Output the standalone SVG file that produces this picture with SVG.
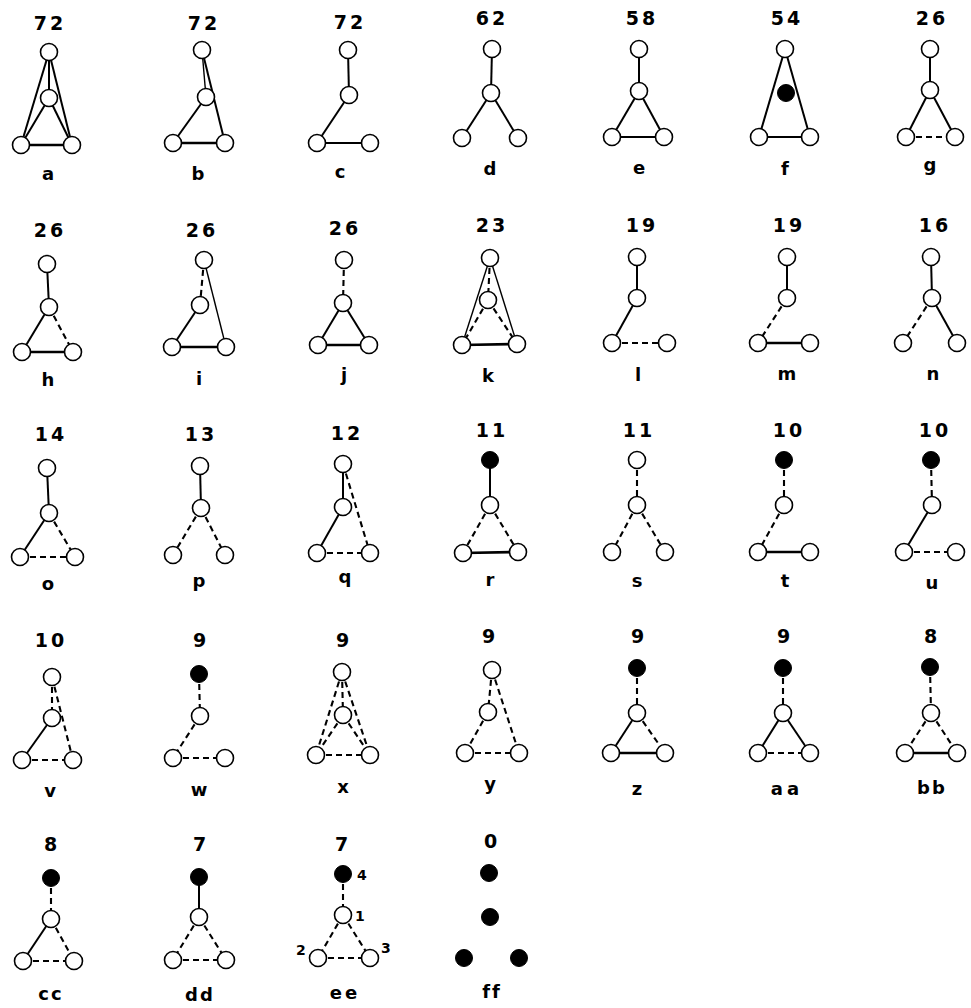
<svg xmlns="http://www.w3.org/2000/svg" width="971" height="1008" viewBox="0 0 971 1008">
<style>
.e{stroke:#000;stroke-width:2;fill:none}
.t{stroke-width:1.4}
.k{stroke-width:2.6}
.d{stroke-dasharray:6 4;stroke-width:2.1}
.n{fill:#fff;stroke:#000;stroke-width:1.6}
.f{fill:#000;stroke:#000;stroke-width:1}
.num{font-family:"DejaVu Sans",sans-serif;font-weight:bold;font-size:19px;letter-spacing:3px;text-anchor:middle;fill:#000}
.lbl{font-family:"DejaVu Sans",sans-serif;font-weight:bold;font-size:18px;text-anchor:middle;fill:#000}
.sm{font-family:"DejaVu Sans",sans-serif;font-weight:bold;font-size:14px;fill:#000}
</style>
<rect width="971" height="1008" fill="#fff"/>
<g id="connectors">
<line class="e" x1="49" y1="52" x2="49" y2="98"/><line class="e" x1="49" y1="52" x2="21" y2="145"/><line class="e" x1="49" y1="52" x2="72" y2="145"/><line class="e" x1="49" y1="98" x2="21" y2="145"/><line class="e" x1="49" y1="98" x2="72" y2="145"/><line class="e k" x1="21" y1="145" x2="72" y2="145"/>
<line class="e t" x1="202" y1="50" x2="206" y2="97"/><line class="e" x1="202" y1="50" x2="225" y2="143"/><line class="e" x1="206" y1="97" x2="173" y2="143"/><line class="e k" x1="173" y1="143" x2="225" y2="143"/>
<line class="e" x1="348" y1="50" x2="349" y2="95"/><line class="e" x1="349" y1="95" x2="317" y2="143"/><line class="e" x1="317" y1="143" x2="370" y2="143"/>
<line class="e" x1="492" y1="49" x2="491" y2="93"/><line class="e" x1="491" y1="93" x2="462" y2="138"/><line class="e" x1="491" y1="93" x2="518" y2="138"/>
<line class="e" x1="639" y1="49" x2="639" y2="91"/><line class="e" x1="639" y1="91" x2="612" y2="137"/><line class="e" x1="639" y1="91" x2="664" y2="137"/><line class="e" x1="612" y1="137" x2="664" y2="137"/>
<line class="e" x1="785" y1="49" x2="759" y2="137"/><line class="e" x1="785" y1="49" x2="810" y2="137"/><line class="e" x1="759" y1="137" x2="810" y2="137"/>
<line class="e" x1="930" y1="49" x2="930" y2="90"/><line class="e" x1="930" y1="90" x2="906" y2="137"/><line class="e" x1="930" y1="90" x2="955" y2="137"/><line class="e d" x1="906" y1="137" x2="955" y2="137"/>
<line class="e" x1="47" y1="264" x2="49" y2="307"/><line class="e" x1="49" y1="307" x2="22" y2="352"/><line class="e d" x1="49" y1="307" x2="73" y2="352"/><line class="e k" x1="22" y1="352" x2="73" y2="352"/>
<line class="e d" x1="204" y1="260" x2="200" y2="305"/><line class="e t" x1="204" y1="260" x2="226" y2="347"/><line class="e" x1="200" y1="305" x2="172" y2="347"/><line class="e k" x1="172" y1="347" x2="226" y2="347"/>
<line class="e d" x1="344" y1="260" x2="343" y2="303"/><line class="e" x1="343" y1="303" x2="318" y2="345"/><line class="e" x1="343" y1="303" x2="369" y2="345"/><line class="e k" x1="318" y1="345" x2="369" y2="345"/>
<line class="e t" x1="490" y1="258" x2="462" y2="345"/><line class="e d" x1="490" y1="258" x2="488" y2="300"/><line class="e t" x1="490" y1="258" x2="517" y2="344"/><line class="e d" x1="488" y1="300" x2="462" y2="345"/><line class="e d" x1="488" y1="300" x2="517" y2="344"/><line class="e k" x1="462" y1="345" x2="517" y2="344"/>
<line class="e" x1="637" y1="257" x2="637" y2="298"/><line class="e" x1="637" y1="298" x2="612" y2="343"/><line class="e d" x1="612" y1="343" x2="667" y2="343"/>
<line class="e" x1="787" y1="257" x2="787" y2="298"/><line class="e d" x1="787" y1="298" x2="758" y2="343"/><line class="e k" x1="758" y1="343" x2="810" y2="343"/>
<line class="e" x1="931" y1="257" x2="932" y2="298"/><line class="e d" x1="932" y1="298" x2="903" y2="343"/><line class="e" x1="932" y1="298" x2="957" y2="343"/>
<line class="e" x1="47" y1="468" x2="49" y2="513"/><line class="e" x1="49" y1="513" x2="20" y2="557"/><line class="e d" x1="49" y1="513" x2="75" y2="557"/><line class="e d" x1="20" y1="557" x2="75" y2="557"/>
<line class="e" x1="200" y1="466" x2="201" y2="508"/><line class="e d" x1="201" y1="508" x2="173" y2="555"/><line class="e d" x1="201" y1="508" x2="225" y2="555"/>
<line class="e" x1="343" y1="464" x2="343" y2="507"/><line class="e d" x1="343" y1="464" x2="370" y2="553"/><line class="e" x1="343" y1="507" x2="317" y2="553"/><line class="e d" x1="317" y1="553" x2="370" y2="553"/>
<line class="e" x1="490" y1="460" x2="490" y2="505"/><line class="e d" x1="490" y1="505" x2="463" y2="553"/><line class="e d" x1="490" y1="505" x2="518" y2="552"/><line class="e k" x1="463" y1="553" x2="518" y2="552"/>
<line class="e d" x1="637" y1="460" x2="637" y2="505"/><line class="e d" x1="637" y1="505" x2="612" y2="552"/><line class="e d" x1="637" y1="505" x2="665" y2="552"/>
<line class="e d" x1="784" y1="460" x2="784" y2="505"/><line class="e d" x1="784" y1="505" x2="758" y2="552"/><line class="e k" x1="758" y1="552" x2="810" y2="552"/>
<line class="e d" x1="931" y1="460" x2="932" y2="505"/><line class="e" x1="932" y1="505" x2="904" y2="552"/><line class="e d" x1="904" y1="552" x2="956" y2="552"/>
<line class="e d" x1="52" y1="677" x2="52" y2="718"/><line class="e d" x1="52" y1="677" x2="73" y2="760"/><line class="e" x1="52" y1="718" x2="22" y2="760"/><line class="e d" x1="22" y1="760" x2="73" y2="760"/>
<line class="e d" x1="199" y1="674" x2="200" y2="716"/><line class="e d" x1="200" y1="716" x2="173" y2="758"/><line class="e d" x1="173" y1="758" x2="225" y2="758"/>
<line class="e d" x1="342" y1="672" x2="316" y2="755"/><line class="e d" x1="342" y1="672" x2="343" y2="715"/><line class="e d" x1="342" y1="672" x2="370" y2="755"/><line class="e d" x1="343" y1="715" x2="316" y2="755"/><line class="e d" x1="343" y1="715" x2="370" y2="755"/><line class="e d" x1="316" y1="755" x2="370" y2="755"/>
<line class="e d" x1="492" y1="670" x2="488" y2="712"/><line class="e d" x1="492" y1="670" x2="519" y2="753"/><line class="e d" x1="488" y1="712" x2="465" y2="753"/><line class="e d" x1="465" y1="753" x2="519" y2="753"/>
<line class="e d" x1="637" y1="668" x2="637" y2="713"/><line class="e" x1="637" y1="713" x2="611" y2="753"/><line class="e d" x1="637" y1="713" x2="665" y2="753"/><line class="e k" x1="611" y1="753" x2="665" y2="753"/>
<line class="e d" x1="783" y1="668" x2="783" y2="713"/><line class="e" x1="783" y1="713" x2="758" y2="753"/><line class="e" x1="783" y1="713" x2="810" y2="753"/><line class="e d" x1="758" y1="753" x2="810" y2="753"/>
<line class="e d" x1="930" y1="667" x2="931" y2="713"/><line class="e d" x1="931" y1="713" x2="905" y2="753"/><line class="e d" x1="931" y1="713" x2="957" y2="753"/><line class="e k" x1="905" y1="753" x2="957" y2="753"/>
<line class="e d" x1="51" y1="878" x2="51" y2="919"/><line class="e" x1="51" y1="919" x2="23" y2="961"/><line class="e d" x1="51" y1="919" x2="74" y2="961"/><line class="e d" x1="23" y1="961" x2="74" y2="961"/>
<line class="e" x1="199" y1="877" x2="199" y2="917"/><line class="e d" x1="199" y1="917" x2="173" y2="960"/><line class="e d" x1="199" y1="917" x2="226" y2="960"/><line class="e d" x1="173" y1="960" x2="226" y2="960"/>
<line class="e d" x1="343" y1="874" x2="343" y2="915"/><line class="e d" x1="343" y1="915" x2="318" y2="958"/><line class="e d" x1="343" y1="915" x2="370" y2="958"/><line class="e d" x1="318" y1="958" x2="370" y2="958"/>
</g>
<g id="graph-a"><text class="num" x="50" y="30">72</text><circle class="n" cx="49" cy="52" r="8.5"/><circle class="n" cx="49" cy="98" r="8.5"/><circle class="n" cx="21" cy="145" r="8.5"/><circle class="n" cx="72" cy="145" r="8.5"/><text class="lbl" x="48" y="180">a</text></g>
<g id="graph-b"><text class="num" x="204" y="30">72</text><circle class="n" cx="202" cy="50" r="8.5"/><circle class="n" cx="206" cy="97" r="8.5"/><circle class="n" cx="173" cy="143" r="8.5"/><circle class="n" cx="225" cy="143" r="8.5"/><text class="lbl" x="198" y="180">b</text></g>
<g id="graph-c"><text class="num" x="350" y="29">72</text><circle class="n" cx="348" cy="50" r="8.5"/><circle class="n" cx="349" cy="95" r="8.5"/><circle class="n" cx="317" cy="143" r="8.5"/><circle class="n" cx="370" cy="143" r="8.5"/><text class="lbl" x="340" y="178">c</text></g>
<g id="graph-d"><text class="num" x="492" y="25">62</text><circle class="n" cx="492" cy="49" r="8.5"/><circle class="n" cx="491" cy="93" r="8.5"/><circle class="n" cx="462" cy="138" r="8.5"/><circle class="n" cx="518" cy="138" r="8.5"/><text class="lbl" x="490" y="175">d</text></g>
<g id="graph-e"><text class="num" x="642" y="25">58</text><circle class="n" cx="639" cy="49" r="8.5"/><circle class="n" cx="639" cy="91" r="8.5"/><circle class="n" cx="612" cy="137" r="8.5"/><circle class="n" cx="664" cy="137" r="8.5"/><text class="lbl" x="639" y="174">e</text></g>
<g id="graph-f"><text class="num" x="787" y="25">54</text><circle class="n" cx="785" cy="49" r="8.5"/><circle class="f" cx="786" cy="93" r="8.5"/><circle class="n" cx="759" cy="137" r="8.5"/><circle class="n" cx="810" cy="137" r="8.5"/><text class="lbl" x="785" y="175">f</text></g>
<g id="graph-g"><text class="num" x="932" y="25">26</text><circle class="n" cx="930" cy="49" r="8.5"/><circle class="n" cx="930" cy="90" r="8.5"/><circle class="n" cx="906" cy="137" r="8.5"/><circle class="n" cx="955" cy="137" r="8.5"/><text class="lbl" x="930" y="171">g</text></g>
<g id="graph-h"><text class="num" x="50" y="237">26</text><circle class="n" cx="47" cy="264" r="8.5"/><circle class="n" cx="49" cy="307" r="8.5"/><circle class="n" cx="22" cy="352" r="8.5"/><circle class="n" cx="73" cy="352" r="8.5"/><text class="lbl" x="48" y="386">h</text></g>
<g id="graph-i"><text class="num" x="202" y="237">26</text><circle class="n" cx="204" cy="260" r="8.5"/><circle class="n" cx="200" cy="305" r="8.5"/><circle class="n" cx="172" cy="347" r="8.5"/><circle class="n" cx="226" cy="347" r="8.5"/><text class="lbl" x="199" y="385">i</text></g>
<g id="graph-j"><text class="num" x="345" y="235">26</text><circle class="n" cx="344" cy="260" r="8.5"/><circle class="n" cx="343" cy="303" r="8.5"/><circle class="n" cx="318" cy="345" r="8.5"/><circle class="n" cx="369" cy="345" r="8.5"/><text class="lbl" x="344" y="381">j</text></g>
<g id="graph-k"><text class="num" x="492" y="232">23</text><circle class="n" cx="490" cy="258" r="8.5"/><circle class="n" cx="488" cy="300" r="8.5"/><circle class="n" cx="462" cy="345" r="8.5"/><circle class="n" cx="517" cy="344" r="8.5"/><text class="lbl" x="488" y="382">k</text></g>
<g id="graph-l"><text class="num" x="642" y="232">19</text><circle class="n" cx="637" cy="257" r="8.5"/><circle class="n" cx="637" cy="298" r="8.5"/><circle class="n" cx="612" cy="343" r="8.5"/><circle class="n" cx="667" cy="343" r="8.5"/><text class="lbl" x="638" y="381">l</text></g>
<g id="graph-m"><text class="num" x="789" y="232">19</text><circle class="n" cx="787" cy="257" r="8.5"/><circle class="n" cx="787" cy="298" r="8.5"/><circle class="n" cx="758" cy="343" r="8.5"/><circle class="n" cx="810" cy="343" r="8.5"/><text class="lbl" x="787" y="380">m</text></g>
<g id="graph-n"><text class="num" x="935" y="232">16</text><circle class="n" cx="931" cy="257" r="8.5"/><circle class="n" cx="932" cy="298" r="8.5"/><circle class="n" cx="903" cy="343" r="8.5"/><circle class="n" cx="957" cy="343" r="8.5"/><text class="lbl" x="933" y="380">n</text></g>
<g id="graph-o"><text class="num" x="51" y="441">14</text><circle class="n" cx="47" cy="468" r="8.5"/><circle class="n" cx="49" cy="513" r="8.5"/><circle class="n" cx="20" cy="557" r="8.5"/><circle class="n" cx="75" cy="557" r="8.5"/><text class="lbl" x="48" y="590">o</text></g>
<g id="graph-p"><text class="num" x="201" y="441">13</text><circle class="n" cx="200" cy="466" r="8.5"/><circle class="n" cx="201" cy="508" r="8.5"/><circle class="n" cx="173" cy="555" r="8.5"/><circle class="n" cx="225" cy="555" r="8.5"/><text class="lbl" x="199" y="587">p</text></g>
<g id="graph-q"><text class="num" x="347" y="440">12</text><circle class="n" cx="343" cy="464" r="8.5"/><circle class="n" cx="343" cy="507" r="8.5"/><circle class="n" cx="317" cy="553" r="8.5"/><circle class="n" cx="370" cy="553" r="8.5"/><text class="lbl" x="345" y="583">q</text></g>
<g id="graph-r"><text class="num" x="492" y="437">11</text><circle class="f" cx="490" cy="460" r="8.5"/><circle class="n" cx="490" cy="505" r="8.5"/><circle class="n" cx="463" cy="553" r="8.5"/><circle class="n" cx="518" cy="552" r="8.5"/><text class="lbl" x="490" y="586">r</text></g>
<g id="graph-s"><text class="num" x="639" y="437">11</text><circle class="n" cx="637" cy="460" r="8.5"/><circle class="n" cx="637" cy="505" r="8.5"/><circle class="n" cx="612" cy="552" r="8.5"/><circle class="n" cx="665" cy="552" r="8.5"/><text class="lbl" x="637" y="587">s</text></g>
<g id="graph-t"><text class="num" x="789" y="437">10</text><circle class="f" cx="784" cy="460" r="8.5"/><circle class="n" cx="784" cy="505" r="8.5"/><circle class="n" cx="758" cy="552" r="8.5"/><circle class="n" cx="810" cy="552" r="8.5"/><text class="lbl" x="785" y="587">t</text></g>
<g id="graph-u"><text class="num" x="935" y="437">10</text><circle class="f" cx="931" cy="460" r="8.5"/><circle class="n" cx="932" cy="505" r="8.5"/><circle class="n" cx="904" cy="552" r="8.5"/><circle class="n" cx="956" cy="552" r="8.5"/><text class="lbl" x="932" y="589">u</text></g>
<g id="graph-v"><text class="num" x="51" y="647">10</text><circle class="n" cx="52" cy="677" r="8.5"/><circle class="n" cx="52" cy="718" r="8.5"/><circle class="n" cx="22" cy="760" r="8.5"/><circle class="n" cx="73" cy="760" r="8.5"/><text class="lbl" x="50" y="797">v</text></g>
<g id="graph-w"><text class="num" x="201" y="647">9</text><circle class="f" cx="199" cy="674" r="8.5"/><circle class="n" cx="200" cy="716" r="8.5"/><circle class="n" cx="173" cy="758" r="8.5"/><circle class="n" cx="225" cy="758" r="8.5"/><text class="lbl" x="199" y="796">w</text></g>
<g id="graph-x"><text class="num" x="344" y="647">9</text><circle class="n" cx="342" cy="672" r="8.5"/><circle class="n" cx="343" cy="715" r="8.5"/><circle class="n" cx="316" cy="755" r="8.5"/><circle class="n" cx="370" cy="755" r="8.5"/><text class="lbl" x="343" y="793">x</text></g>
<g id="graph-y"><text class="num" x="490" y="643">9</text><circle class="n" cx="492" cy="670" r="8.5"/><circle class="n" cx="488" cy="712" r="8.5"/><circle class="n" cx="465" cy="753" r="8.5"/><circle class="n" cx="519" cy="753" r="8.5"/><text class="lbl" x="490" y="790">y</text></g>
<g id="graph-z"><text class="num" x="639" y="643">9</text><circle class="f" cx="637" cy="668" r="8.5"/><circle class="n" cx="637" cy="713" r="8.5"/><circle class="n" cx="611" cy="753" r="8.5"/><circle class="n" cx="665" cy="753" r="8.5"/><text class="lbl" x="637" y="795">z</text></g>
<g id="graph-aa"><text class="num" x="785" y="643">9</text><circle class="f" cx="783" cy="668" r="8.5"/><circle class="n" cx="783" cy="713" r="8.5"/><circle class="n" cx="758" cy="753" r="8.5"/><circle class="n" cx="810" cy="753" r="8.5"/><text class="lbl" x="787" y="795" letter-spacing="4">aa</text></g>
<g id="graph-bb"><text class="num" x="932" y="643">8</text><circle class="f" cx="930" cy="667" r="8.5"/><circle class="n" cx="931" cy="713" r="8.5"/><circle class="n" cx="905" cy="753" r="8.5"/><circle class="n" cx="957" cy="753" r="8.5"/><text class="lbl" x="932" y="794" letter-spacing="2">bb</text></g>
<g id="graph-cc"><text class="num" x="52" y="851">8</text><circle class="f" cx="51" cy="878" r="8.5"/><circle class="n" cx="51" cy="919" r="8.5"/><circle class="n" cx="23" cy="961" r="8.5"/><circle class="n" cx="74" cy="961" r="8.5"/><text class="lbl" x="51" y="1000" letter-spacing="2">cc</text></g>
<g id="graph-dd"><text class="num" x="201" y="851">7</text><circle class="f" cx="199" cy="877" r="8.5"/><circle class="n" cx="199" cy="917" r="8.5"/><circle class="n" cx="173" cy="960" r="8.5"/><circle class="n" cx="226" cy="960" r="8.5"/><text class="lbl" x="200" y="1001" letter-spacing="2">dd</text></g>
<g id="graph-ee"><text class="num" x="343" y="851">7</text><circle class="f" cx="343" cy="874" r="8.5"/><circle class="n" cx="343" cy="915" r="8.5"/><circle class="n" cx="318" cy="958" r="8.5"/><circle class="n" cx="370" cy="958" r="8.5"/><text class="sm" x="357" y="880">4</text><text class="sm" x="355" y="921">1</text><text class="sm" x="296" y="955">2</text><text class="sm" x="381" y="953">3</text><text class="lbl" x="345" y="999" letter-spacing="3">ee</text></g>
<g id="graph-ff"><text class="num" x="492" y="848">0</text><circle class="f" cx="489" cy="873" r="8.5"/><circle class="f" cx="490" cy="917" r="8.5"/><circle class="f" cx="464" cy="958" r="8.5"/><circle class="f" cx="519" cy="958" r="8.5"/><text class="lbl" x="492" y="998" letter-spacing="2">ff</text></g>
</svg>
